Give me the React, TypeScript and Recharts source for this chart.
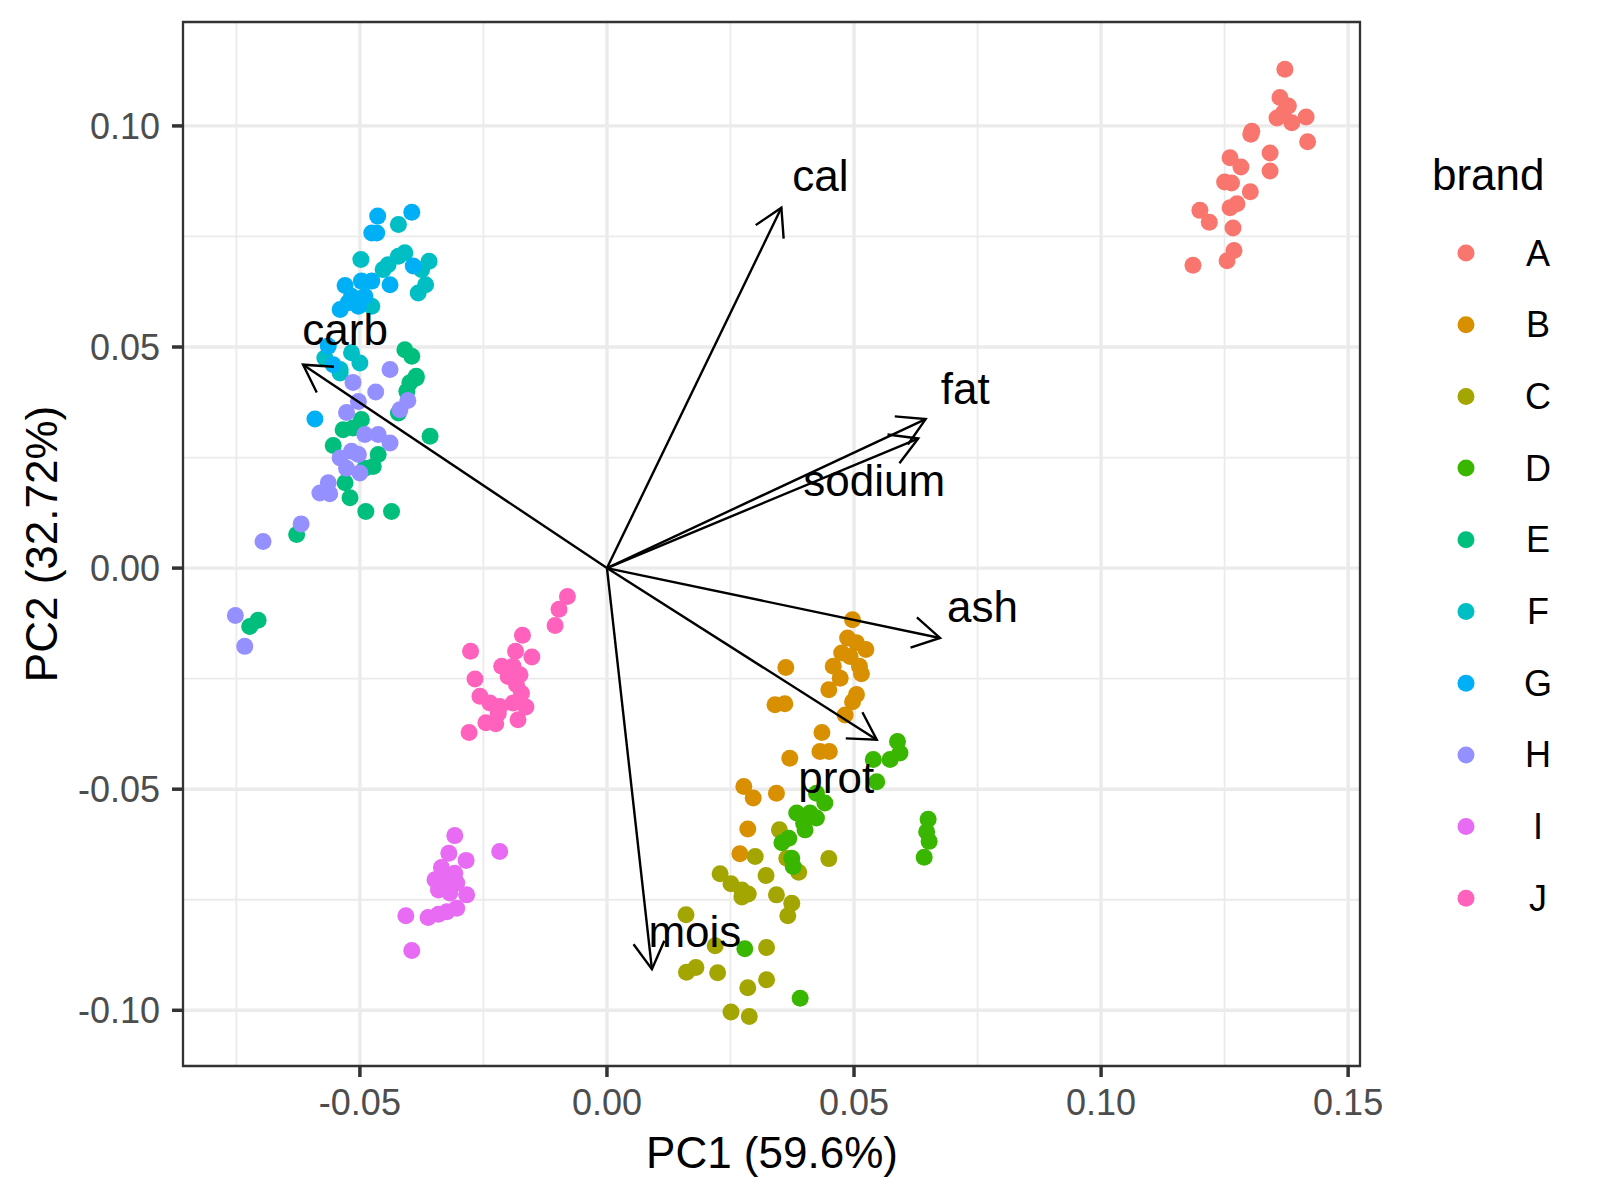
import { ScatterChart, Scatter, XAxis, YAxis, CartesianGrid, ReferenceArea } from "recharts";

const brands = ["A", "B", "C", "D", "E", "F", "G", "H", "I", "J"];
const brandColors = ["#F8766D", "#D89000", "#A3A500", "#39B600", "#00BF7D", "#00BFC4", "#00B0F6", "#9590FF", "#E76BF3", "#FF62BC"];

const pointsA: [number, number][] = [
  [0.1372, 0.1128], [0.1362, 0.1064], [0.1379, 0.1045], [0.1356, 0.1018], [0.1386, 0.1007],
  [0.1415, 0.102], [0.1369, 0.103], [0.1418, 0.0964], [0.1305, 0.0988], [0.1303, 0.0981],
  [0.1342, 0.0939], [0.1342, 0.0898], [0.1261, 0.0928], [0.1283, 0.0907], [0.125, 0.0873],
  [0.1264, 0.0871], [0.1302, 0.0851], [0.1275, 0.0824], [0.1261, 0.0815], [0.12, 0.0809],
  [0.1219, 0.0782], [0.1267, 0.0769], [0.1269, 0.0718], [0.1255, 0.0695], [0.1186, 0.0685],
];
const pointsB: [number, number][] = [
  [0.0497, -0.0117], [0.0487, -0.0158], [0.0505, -0.0169], [0.0524, -0.0184], [0.0475, -0.0192],
  [0.0492, -0.02], [0.0362, -0.0225], [0.0458, -0.0222], [0.0511, -0.0222], [0.0472, -0.0249],
  [0.0515, -0.0239], [0.0449, -0.0275], [0.0505, -0.0286], [0.0497, -0.0302], [0.034, -0.0309],
  [0.036, -0.0307], [0.0482, -0.0332], [0.0435, -0.0372], [0.0431, -0.0415], [0.045, -0.0415],
  [0.037, -0.043], [0.0277, -0.0494], [0.0296, -0.052], [0.0343, -0.0509], [0.0285, -0.059],
  [0.0269, -0.0646],
];
const pointsC: [number, number][] = [
  [0.0349, -0.0592], [0.03, -0.0652], [0.0364, -0.0656], [0.0388, -0.0688], [0.0449, -0.0657],
  [0.0322, -0.0695], [0.0229, -0.0691], [0.0251, -0.0714], [0.0273, -0.0728], [0.0286, -0.0737],
  [0.0273, -0.0744], [0.0343, -0.0739], [0.0374, -0.0758], [0.0366, -0.0786], [0.016, -0.0784],
  [0.0219, -0.0854], [0.0323, -0.0858], [0.0161, -0.0914], [0.018, -0.0903], [0.0224, -0.0915],
  [0.0323, -0.0931], [0.0285, -0.0949], [0.0251, -0.1004], [0.0288, -0.1014],
];
const pointsD: [number, number][] = [
  [0.0588, -0.0392], [0.0593, -0.0418], [0.0573, -0.0433], [0.0539, -0.0433], [0.0546, -0.0483],
  [0.0424, -0.0509], [0.0441, -0.0531], [0.0384, -0.0554], [0.0411, -0.0554], [0.0424, -0.0565],
  [0.0401, -0.0592], [0.0398, -0.0577], [0.0368, -0.0611], [0.0354, -0.0621], [0.0374, -0.0656],
  [0.0377, -0.0675], [0.065, -0.0568], [0.0647, -0.0596], [0.0652, -0.0618], [0.0642, -0.0654],
  [0.0279, -0.0861], [0.0391, -0.0973],
];
const pointsE: [number, number][] = [
  [-0.0409, 0.0494], [-0.0395, 0.0479], [-0.0386, 0.0434], [-0.0386, 0.043], [-0.0399, 0.0419],
  [-0.0405, 0.04], [-0.0422, 0.0351], [-0.0358, 0.0298], [-0.0497, 0.0336], [-0.0534, 0.0313],
  [-0.0514, 0.0317], [-0.0554, 0.0277], [-0.0463, 0.0257], [-0.049, 0.0226], [-0.053, 0.0193],
  [-0.052, 0.0159], [-0.0488, 0.0128], [-0.0436, 0.0128], [-0.0628, 0.0076], [-0.0473, 0.023],
  [-0.0706, -0.0118], [-0.0723, -0.0132],
];
const pointsF: [number, number][] = [
  [-0.0422, 0.0777], [-0.0498, 0.0698], [-0.0409, 0.0713], [-0.0422, 0.0705], [-0.0443, 0.0686],
  [-0.0453, 0.0675], [-0.036, 0.0694], [-0.0375, 0.0675], [-0.0367, 0.0641], [-0.0382, 0.0622],
  [-0.0476, 0.0592], [-0.0517, 0.0487], [-0.05, 0.0464], [-0.0571, 0.0475], [-0.054, 0.0449],
  [-0.054, 0.0441],
];
const pointsG: [number, number][] = [
  [-0.0464, 0.0796], [-0.0395, 0.0805], [-0.0476, 0.0758], [-0.0466, 0.0758], [-0.0392, 0.0683],
  [-0.053, 0.0639], [-0.0497, 0.0649], [-0.0476, 0.0649], [-0.0439, 0.0641], [-0.0517, 0.0615],
  [-0.049, 0.0615], [-0.0524, 0.06], [-0.054, 0.0585], [-0.0503, 0.0592], [-0.0564, 0.0502],
  [-0.0554, 0.046], [-0.0591, 0.0337],
];
const pointsH: [number, number][] = [
  [-0.0439, 0.0449], [-0.0514, 0.042], [-0.0468, 0.0398], [-0.0503, 0.0377], [-0.0403, 0.0379],
  [-0.0419, 0.0358], [-0.0527, 0.0352], [-0.049, 0.0302], [-0.0463, 0.0302], [-0.0439, 0.0283],
  [-0.0517, 0.0264], [-0.054, 0.0249], [-0.0503, 0.0257], [-0.0527, 0.0226], [-0.05, 0.0215],
  [-0.0564, 0.0193], [-0.0581, 0.017], [-0.0561, 0.0168], [-0.0619, 0.01], [-0.0696, 0.006],
  [-0.0752, -0.0107], [-0.0733, -0.0177],
];
const pointsI: [number, number][] = [
  [-0.0308, -0.0605], [-0.0217, -0.0641], [-0.032, -0.0645], [-0.0285, -0.0661], [-0.0335, -0.0677],
  [-0.0308, -0.069], [-0.0348, -0.0705], [-0.0328, -0.0709], [-0.0304, -0.0712], [-0.0341, -0.0728],
  [-0.0318, -0.0735], [-0.0284, -0.0739], [-0.0304, -0.0769], [-0.0324, -0.0777], [-0.0341, -0.0783],
  [-0.0362, -0.079], [-0.0407, -0.0786], [-0.0395, -0.0865],
];
const pointsJ: [number, number][] = [
  [-0.008, -0.0064], [-0.0097, -0.0093], [-0.0105, -0.013], [-0.0171, -0.0152], [-0.0276, -0.0188],
  [-0.0185, -0.0188], [-0.0152, -0.0201], [-0.0213, -0.0222], [-0.019, -0.0222], [-0.0176, -0.0241],
  [-0.02, -0.0245], [-0.0267, -0.0251], [-0.0183, -0.0264], [-0.0173, -0.0283], [-0.0257, -0.029],
  [-0.0237, -0.0305], [-0.0217, -0.0313], [-0.019, -0.0305], [-0.0164, -0.0314], [-0.022, -0.0328],
  [-0.018, -0.0343], [-0.0245, -0.035], [-0.0225, -0.0352], [-0.0279, -0.0372],
];
const brandPoints = [pointsA, pointsB, pointsC, pointsD, pointsE, pointsF, pointsG, pointsH, pointsI, pointsJ];

// loading vectors (arrow tips) and where their names sit
const loadingNames = ["cal", "fat", "sodium", "ash", "prot", "mois", "carb"];
const loadingX = [0.0353, 0.0645, 0.063, 0.0674, 0.0546, 0.0091, -0.0615];
const loadingY = [0.0815, 0.0337, 0.0293, -0.0158, -0.0388, -0.0907, 0.046];
const labelX = [0.0432, 0.0725, 0.0541, 0.076, 0.0464, 0.0178, -0.053];
const labelY = [0.0852, 0.0372, 0.0164, -0.0122, -0.0508, -0.0856, 0.0504];

const majorX = [-0.05, 0, 0.05, 0.1, 0.15];
const minorX = [-0.075, -0.025, 0.025, 0.075, 0.125];
const majorY = [-0.1, -0.05, 0, 0.05, 0.1];
const minorY = [-0.075, -0.025, 0.025, 0.075];

const xDomain: [number, number] = [-0.0858, 0.1524];
const yDomain: [number, number] = [-0.1126, 0.1235];

const FONT = '"Liberation Sans", Arial, sans-serif';

const Dot = (color: string) => (props: any) => (
  <circle cx={props.cx} cy={props.cy} r={8.5} fill={color} />
);

const NoShape = () => <g />;

const ArrowLine = (props: any) => {
  const pts = props.points;
  if (!pts || pts.length < 2) return <g />;
  const p0 = pts[0];
  const p1 = pts[1];
  const ang = Math.atan2(p1.y - p0.y, p1.x - p0.x);
  const len = 31;
  const spread = Math.PI / 6;
  const ax = p1.x - len * Math.cos(ang - spread);
  const ay = p1.y - len * Math.sin(ang - spread);
  const bx = p1.x - len * Math.cos(ang + spread);
  const by = p1.y - len * Math.sin(ang + spread);
  return (
    <g>
      <line x1={p0.x} y1={p0.y} x2={p1.x} y2={p1.y} stroke="#000" strokeWidth={2.4} />
      <polyline points={`${ax},${ay} ${p1.x},${p1.y} ${bx},${by}`} fill="none" stroke="#000" strokeWidth={2.4} />
    </g>
  );
};

const LabelText = (props: any) => (
  <text x={props.cx} y={props.cy} textAnchor="middle" fontSize={44} fontFamily={FONT} fill="#000">
    {props.payload.name}
  </text>
);

const fmt = (v: number) => v.toFixed(2);

export default function App() {
  const labelData = loadingNames.map((name, i) => ({ name, x: labelX[i], y: labelY[i] }));
  return (
    <div style={{ position: "absolute", left: 0, top: 0, width: 1600, height: 1200, background: "#fff", fontFamily: FONT }}>
      <ScatterChart width={1600} height={1200} margin={{ top: 22, right: 240, bottom: 0, left: 0 }}>
        <CartesianGrid verticalValues={minorX} horizontalValues={minorY} stroke="#EBEBEB" strokeWidth={1.8} />
        <CartesianGrid verticalValues={majorX} horizontalValues={majorY} stroke="#EBEBEB" strokeWidth={3.4} />
        <XAxis
          type="number"
          dataKey="x"
          domain={xDomain}
          ticks={majorX}
          allowDataOverflow
          tickFormatter={fmt}
          height={134}
          tickSize={11}
          tickMargin={12}
          axisLine={false}
          tickLine={{ stroke: "#333333", strokeWidth: 3.5 }}
          tick={{ fill: "#4D4D4D", fontSize: 36, fontFamily: FONT }}
        />
        <YAxis
          type="number"
          dataKey="y"
          domain={yDomain}
          ticks={majorY}
          allowDataOverflow
          tickFormatter={fmt}
          width={183}
          tickSize={11}
          tickMargin={12}
          axisLine={false}
          tickLine={{ stroke: "#333333", strokeWidth: 3.5 }}
          tick={{ fill: "#4D4D4D", fontSize: 36, fontFamily: FONT }}
        />
        {brands.map((b, i) => (
          <Scatter
            key={b}
            name={b}
            data={brandPoints[i].map(([x, y]) => ({ x, y }))}
            fill={brandColors[i]}
            shape={Dot(brandColors[i])}
            isAnimationActive={false}
          />
        ))}
        {loadingNames.map((n, i) => (
          <Scatter
            key={"arrow-" + n}
            data={[{ x: 0, y: 0 }, { x: loadingX[i], y: loadingY[i] }]}
            shape={NoShape}
            line={ArrowLine}
            isAnimationActive={false}
          />
        ))}
        <Scatter data={labelData} shape={LabelText} isAnimationActive={false} />
        <ReferenceArea
          x1={xDomain[0]}
          x2={xDomain[1]}
          y1={yDomain[0]}
          y2={yDomain[1]}
          fill="none"
          stroke="#333333"
          strokeWidth={2.3}
          ifOverflow="visible"
        />
      </ScatterChart>
      <svg width={1600} height={1200} style={{ position: "absolute", left: 0, top: 0, pointerEvents: "none" }}>
        <text x={772} y={1168} textAnchor="middle" fontSize={44} fontFamily={FONT} fill="#000">PC1 (59.6%)</text>
        <text transform="translate(57,544) rotate(-90)" textAnchor="middle" fontSize={44} fontFamily={FONT} fill="#000">PC2 (32.72%)</text>
        <text x={1432} y={190} fontSize={44} fontFamily={FONT} fill="#000">brand</text>
        {brands.map((b, i) => (
          <g key={b}>
            <circle cx={1466} cy={253 + i * 71.7} r={8.5} fill={brandColors[i]} />
            <text x={1538} y={253 + i * 71.7} dominantBaseline="central" textAnchor="middle" fontSize={36} fontFamily={FONT} fill="#000">{b}</text>
          </g>
        ))}
      </svg>
    </div>
  );
}
